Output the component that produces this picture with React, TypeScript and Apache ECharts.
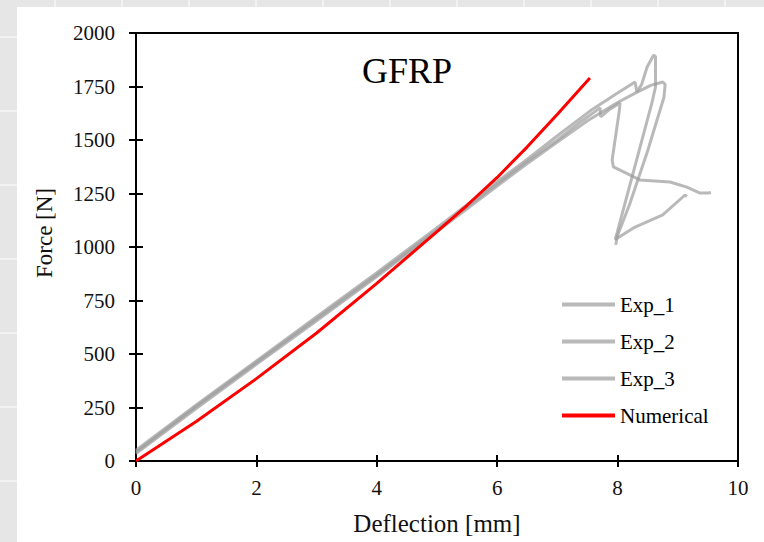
import React, { useEffect, useRef } from "react";
import * as echarts from "echarts";

const xTicks = [0, 2, 4, 6, 8, 10];
const yTicks = [0, 250, 500, 750, 1000, 1250, 1500, 1750, 2000];

const exp1Deflection = [0, 1, 2, 3, 4, 5, 6, 6.5, 7, 7.54, 8.0, 8.29, 8.32, 8.4, 8.49, 8.6, 8.63, 8.63, 8.57, 7.99, 7.96, 8.29, 8.75, 9.12, 9.15];
const exp1Force = [50, 262, 468, 674, 880, 1090, 1305, 1410, 1520, 1635, 1720, 1771, 1724, 1760, 1841, 1897, 1890, 1748, 1673, 1065, 1035, 1093, 1150, 1243, 1235];

const exp2Deflection = [0, 1, 2, 3, 4, 5, 6, 6.5, 7, 7.5, 8.0, 8.3, 8.55, 8.75, 8.79, 8.77, 8.5, 8.2, 7.99, 7.97];
const exp2Force = [35, 245, 452, 655, 862, 1072, 1285, 1390, 1490, 1590, 1675, 1720, 1755, 1771, 1760, 1700, 1450, 1200, 1047, 1010];

const exp3Deflection = [0, 1, 2, 3, 4, 5, 6, 6.5, 7, 7.4, 7.71, 7.72, 7.85, 8.04, 8.03, 7.91, 7.93, 8.21, 8.37, 8.87, 9.15, 9.37, 9.5, 9.55];
const exp3Force = [42, 255, 460, 665, 870, 1080, 1295, 1400, 1500, 1588, 1650, 1608, 1640, 1673, 1640, 1407, 1374, 1336, 1313, 1304, 1280, 1252, 1252, 1255];

const numDeflection = [0, 1, 2, 3, 4, 5, 5.5, 6, 6.5, 7, 7.54];
const numForce = [0, 185, 385, 598, 830, 1072, 1195, 1325, 1468, 1620, 1790];

const seriesNames = ["Exp_1", "Exp_2", "Exp_3", "Numerical"];

const toPairs = (xs: number[], ys: number[]) => xs.map((x, i) => [x, ys[i]]);

const FONT = "'Liberation Serif', 'Times New Roman', serif";
const GRAY = "rgba(155,155,155,0.7)";

export default function App() {
  const ref = useRef<HTMLDivElement>(null);
  useEffect(() => {
    if (!ref.current) return;
    const chart = echarts.init(ref.current, null, { renderer: "svg" });

    const graphics: any[] = [
      { type: "rect", shape: { x: 0, y: 0, width: 764, height: 7 }, style: { fill: "#e6e6e6" }, silent: true },
      { type: "rect", shape: { x: 0, y: 0, width: 17, height: 542 }, style: { fill: "#e6e6e6" }, silent: true },
    ];
    for (let x = 55; x < 764; x += 67) {
      graphics.push({ type: "line", shape: { x1: x, y1: 0, x2: x, y2: 7 }, style: { stroke: "#f6f6f6", lineWidth: 1.5 }, silent: true });
    }
    for (let y = 37; y < 542; y += 74) {
      graphics.push({ type: "line", shape: { x1: 0, y1: y, x2: 17, y2: y }, style: { stroke: "#f6f6f6", lineWidth: 1.5 }, silent: true });
    }

    const axisCommon = {
      type: "value" as const,
      splitLine: { show: false },
    };

    const lineSeries = (name: string, data: number[][], color: string, width: number) => ({
      name,
      type: "line",
      data,
      showSymbol: false,
      symbol: "none",
      lineStyle: { color, width },
      itemStyle: { color },
      xAxisIndex: 0,
      yAxisIndex: 0,
    });

    chart.setOption({
      animation: false,
      backgroundColor: "transparent",
      textStyle: { fontFamily: FONT },
      graphic: graphics,
      title: {
        text: "GFRP",
        left: 362,
        top: 53,
        padding: 0,
        textStyle: { fontFamily: FONT, fontSize: 36, fontWeight: "normal", color: "#000" },
      },
      legend: {
        orient: "vertical",
        left: 562,
        top: 294,
        padding: 0,
        itemWidth: 53,
        itemHeight: 4,
        itemGap: 16,
        icon: "rect",
        data: seriesNames,
        textStyle: { fontFamily: FONT, fontSize: 21, color: "#000", lineHeight: 21 },
      },
      grid: {
        left: 136,
        right: 26,
        top: 33,
        bottom: 81,
        show: true,
        borderColor: "#000",
        borderWidth: 2,
        backgroundColor: "#fff",
      },
      xAxis: [
        {
          ...axisCommon,
          min: xTicks[0],
          max: xTicks[xTicks.length - 1],
          interval: 2,
          axisLine: { show: true, lineStyle: { color: "#000", width: 2 } },
          axisTick: { show: true, length: 6, lineStyle: { color: "#000", width: 2 } },
          axisLabel: { margin: 16, fontFamily: FONT, fontSize: 21, color: "#111", formatter: (v: number) => String(v) },
          name: "Deflection [mm]",
          nameLocation: "middle",
          nameGap: 50,
          nameTextStyle: { fontFamily: FONT, fontSize: 25, color: "#111" },
        },
        {
          ...axisCommon,
          min: xTicks[0],
          max: xTicks[xTicks.length - 1],
          interval: 2,
          position: "bottom",
          axisLine: { show: false },
          axisTick: { show: true, inside: true, length: 6, lineStyle: { color: "#000", width: 2 } },
          axisLabel: { show: false },
        },
      ],
      yAxis: [
        {
          ...axisCommon,
          min: yTicks[0],
          max: yTicks[yTicks.length - 1],
          interval: 250,
          axisLine: { show: true, lineStyle: { color: "#000", width: 2 } },
          axisTick: { show: true, length: 7, lineStyle: { color: "#000", width: 2 } },
          axisLabel: { margin: 21, fontFamily: FONT, fontSize: 21, color: "#111", formatter: (v: number) => String(v) },
          name: "Force [N]",
          nameLocation: "middle",
          nameGap: 80,
          nameTextStyle: { fontFamily: FONT, fontSize: 23, color: "#111", padding: [0, 0, 0, 28] },
        },
        {
          ...axisCommon,
          min: yTicks[0],
          max: yTicks[yTicks.length - 1],
          interval: 250,
          position: "left",
          axisLine: { show: false },
          axisTick: { show: true, inside: true, length: 7, lineStyle: { color: "#000", width: 2 } },
          axisLabel: { show: false },
        },
      ],
      series: [
        lineSeries("Exp_1", toPairs(exp1Deflection, exp1Force), GRAY, 3),
        lineSeries("Exp_2", toPairs(exp2Deflection, exp2Force), GRAY, 3),
        lineSeries("Exp_3", toPairs(exp3Deflection, exp3Force), GRAY, 3),
        lineSeries("Numerical", toPairs(numDeflection, numForce), "#ff0000", 3),
      ],
    });
    return () => chart.dispose();
  }, []);

  return (
    <div
      ref={ref}
      style={{ position: "fixed", left: 0, top: 0, width: 764, height: 542, background: "#fff" }}
    />
  );
}
